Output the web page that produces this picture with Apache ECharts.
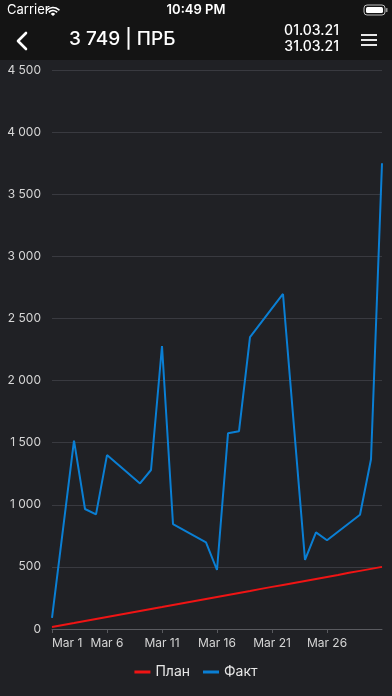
<!DOCTYPE html>
<html>
<head>
<meta charset="utf-8">
<script src="https://cdn.jsdelivr.net/npm/echarts@6/dist/echarts.min.js"></script>
<style>
  html, body { margin: 0; padding: 0; background: #202125; }
  #chart { width: 392px; height: 696px; }
</style>
</head>
<body>
<div id="chart"></div>
<script>
// ---- data ----
const factDays = [1, 3, 4, 5, 6, 9, 10, 11, 12, 15, 16, 17, 18, 19, 22, 24, 25, 26, 29, 30, 31];
const factValues = [90, 1516, 966, 923, 1400, 1172, 1280, 2278, 845, 698, 475, 1575, 1592, 2349, 2697, 556, 778, 714, 920, 1366, 3749];
const planDays = [1, 2, 3, 4, 5, 6, 7, 8, 9, 10, 11, 12, 13, 14, 15, 16, 17, 18, 19, 20, 21, 22, 23, 24, 25, 26, 27, 28, 29, 30, 31];
const planValues = [16, 32, 48, 65, 81, 97, 113, 129, 145, 161, 177, 194, 210, 226, 242, 258, 274, 290, 306, 323, 339, 355, 371, 387, 403, 419, 435, 452, 468, 484, 500];
const seriesNames = ['План', 'Факт'];
const monthLabel = 'Mar';
const titleText = '3 749 | ПРБ';
const dateFrom = '01.03.21';
const dateTo = '31.03.21';

const FONT = 'Inter, Roboto, "Noto Sans", sans-serif';
const fmtThousands = v => String(v).replace(/\B(?=(\d{3})+(?!\d))/g, ' ');

const chart = echarts.init(document.getElementById('chart'), null, { renderer: 'canvas' });

const option = {
  backgroundColor: '#202125',
  animation: false,
  textStyle: { fontFamily: FONT },
  grid: { left: 52, right: 10, top: 70, bottom: 67, containLabel: false },
  legend: {
    data: seriesNames,
    left: 'center',
    top: 660,
    icon: 'rect',
    itemWidth: 16,
    itemHeight: 3,
    itemGap: 13,
    textStyle: { color: '#e6e6e6', fontSize: 14, fontFamily: FONT }
  },
  xAxis: {
    type: 'value',
    min: 0,
    max: 30,
    interval: 5,
    axisLine: { show: true, lineStyle: { color: '#5a5b60', width: 1 } },
    axisTick: { show: true, length: 4, lineStyle: { color: '#5a5b60' } },
    splitLine: { show: false },
    axisLabel: {
      color: '#d6d6d6',
      fontSize: 12,
      fontFamily: FONT,
      margin: 8,
      showMaxLabel: false,
      alignMinLabel: 'left',
      formatter: v => monthLabel + ' ' + (v + 1)
    }
  },
  yAxis: {
    type: 'value',
    min: 0,
    max: 4500,
    interval: 500,
    axisLine: { show: false },
    axisTick: { show: false },
    splitLine: { show: true, lineStyle: { color: '#393a40', width: 1 } },
    axisLabel: {
      color: '#d6d6d6',
      fontSize: 12,
      fontFamily: FONT,
      margin: 11,
      formatter: fmtThousands
    }
  },
  series: [
    {
      name: seriesNames[0],
      type: 'line',
      symbol: 'none',
      lineStyle: { color: '#f01414', width: 2 },
      itemStyle: { color: '#f01414' },
      data: planDays.map((d, i) => [d - 1, planValues[i]])
    },
    {
      name: seriesNames[1],
      type: 'line',
      symbol: 'none',
      lineStyle: { color: '#0a7fd4', width: 2 },
      itemStyle: { color: '#0a7fd4' },
      data: factDays.map((d, i) => [d - 1, factValues[i]])
    }
  ],
  graphic: [
    { type: 'rect', left: 0, top: 0, shape: { width: 392, height: 60 }, style: { fill: '#141414' }, z: 0 },
    // status bar
    { type: 'text', left: 7, top: 4, style: { text: 'Carrier', fill: '#ffffff', font: '13px ' + FONT } },
    { type: 'arc', shape: { cx: 53, cy: 16, r: 8.5, startAngle: -Math.PI * 0.77, endAngle: -Math.PI * 0.23 }, style: { stroke: '#fff', lineWidth: 1.6, fill: null } },
    { type: 'arc', shape: { cx: 53, cy: 16, r: 5.5, startAngle: -Math.PI * 0.77, endAngle: -Math.PI * 0.23 }, style: { stroke: '#fff', lineWidth: 1.6, fill: null } },
    { type: 'sector', shape: { cx: 53, cy: 16, r: 3, r0: 0, startAngle: -Math.PI * 0.77, endAngle: -Math.PI * 0.23 }, style: { fill: '#fff' } },
    { type: 'text', x: 196, y: 4, style: { text: '10:49 PM', fill: '#ffffff', font: '600 13px ' + FONT, align: 'center' } },
    { type: 'rect', shape: { x: 364, y: 5, width: 21, height: 10, r: 3 }, style: { fill: 'none', stroke: '#bdbdbd', lineWidth: 1 } },
    { type: 'rect', shape: { x: 366, y: 7, width: 17, height: 6, r: 1.5 }, style: { fill: '#ffffff' } },
    { type: 'rect', shape: { x: 386, y: 8, width: 1.5, height: 4, r: 0.5 }, style: { fill: '#9a9a9a' } },
    // nav bar
    { type: 'polyline', shape: { points: [[26, 33], [18, 41], [26, 49]] }, style: { stroke: '#ffffff', lineWidth: 2.6, lineCap: 'round', lineJoin: 'round', fill: null } },
    { type: 'text', left: 69, top: 30, style: { text: titleText, fill: '#ffffff', font: '500 19px ' + FONT } },
    { type: 'text', x: 339, y: 24, style: { text: dateFrom, fill: '#ffffff', font: '500 14px ' + FONT, align: 'right' } },
    { type: 'text', x: 339, y: 40, style: { text: dateTo, fill: '#ffffff', font: '500 14px ' + FONT, align: 'right' } },
    { type: 'line', shape: { x1: 361, y1: 35, x2: 377, y2: 35 }, style: { stroke: '#fff', lineWidth: 1.8 } },
    { type: 'line', shape: { x1: 361, y1: 40, x2: 377, y2: 40 }, style: { stroke: '#fff', lineWidth: 1.8 } },
    { type: 'line', shape: { x1: 361, y1: 45, x2: 377, y2: 45 }, style: { stroke: '#fff', lineWidth: 1.8 } }
  ]
};

chart.setOption(option);
</script>
</body>
</html>
